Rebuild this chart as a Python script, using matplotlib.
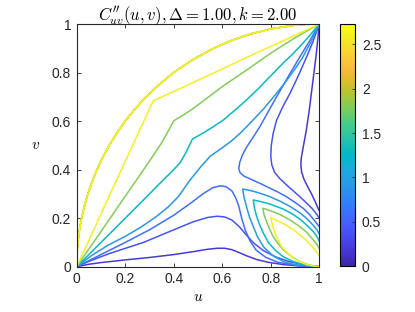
import numpy as np
import matplotlib
matplotlib.use("Agg")
import matplotlib.pyplot as plt
from matplotlib.colors import LinearSegmentedColormap, Normalize
from matplotlib.cm import ScalarMappable

# Valores: niveles de contorno y rango de la barra de color
niveles = [0.2, 0.4, 0.6, 0.9, 1.3, 1.8, 2.6]
z_min, z_max = 0.0, 2.73

# Borde superior del soporte (ahi se juntan todos los niveles)
borde_u = [0, 0.00045, 0.0018, 0.005, 0.0099, 0.0163, 0.0245, 0.0344, 0.046, 0.0633, 0.0835,
           0.107, 0.134, 0.165, 0.2, 0.24, 0.286, 0.339, 0.4, 0.473, 0.564, 0.632, 0.72,
           0.801, 0.9, 0.955, 1]
borde_v = [0, 0.03, 0.06, 0.1, 0.14, 0.18, 0.22, 0.26, 0.3, 0.35, 0.4,
           0.45, 0.5, 0.55, 0.6, 0.65, 0.7, 0.75, 0.8, 0.85, 0.9, 0.93, 0.96,
           0.98, 0.995, 0.999, 1]

# Nivel 1 (indigo)
n1_abajo = [(0, 0), (0.05, 0.01), (0.1, 0.017), (0.2, 0.028), (0.3, 0.038), (0.4, 0.05),
            (0.48, 0.062), (0.54, 0.072), (0.58, 0.076), (0.61, 0.076), (0.64, 0.07),
            (0.67, 0.058), (0.7, 0.045), (0.74, 0.03), (0.79, 0.018), (0.85, 0.009),
            (0.92, 0.003), (1, 0)]
n1_derecha = [(1, 1), (0.995, 0.95), (0.988, 0.88), (0.978, 0.8), (0.968, 0.72), (0.958, 0.64),
              (0.946, 0.56), (0.935, 0.5), (0.926, 0.45), (0.924, 0.42), (0.927, 0.39),
              (0.937, 0.36), (0.952, 0.33), (0.968, 0.3), (0.982, 0.27), (0.993, 0.245), (1, 0.23)]

# Nivel 2 (azul)
n2_abajo = [(0, 0), (0.05, 0.022), (0.137, 0.055), (0.275, 0.1), (0.4, 0.152), (0.48, 0.185),
            (0.54, 0.203), (0.58, 0.208), (0.61, 0.205), (0.64, 0.192), (0.67, 0.165),
            (0.7, 0.13), (0.73, 0.097), (0.77, 0.066), (0.82, 0.04), (0.88, 0.02),
            (0.94, 0.007), (1, 0)]
n2_derecha = [(1, 1), (0.975, 0.93), (0.948, 0.865), (0.915, 0.79), (0.879, 0.714), (0.85, 0.66),
              (0.824, 0.604), (0.81, 0.55), (0.802, 0.5), (0.8, 0.455), (0.804, 0.42),
              (0.815, 0.39), (0.838, 0.362), (0.865, 0.337), (0.893, 0.312), (0.92, 0.288),
              (0.948, 0.262), (0.972, 0.238), (0.99, 0.215), (1, 0.2)]

# Nivel 3 (azul claro)
n3_abajo = [(0, 0), (0.05, 0.025), (0.1, 0.05), (0.2, 0.1), (0.3, 0.152), (0.4, 0.212),
            (0.47, 0.262), (0.52, 0.3), (0.56, 0.325), (0.59, 0.333), (0.615, 0.33),
            (0.64, 0.312), (0.655, 0.285), (0.668, 0.25), (0.68, 0.2), (0.695, 0.15),
            (0.715, 0.105), (0.74, 0.068), (0.78, 0.038), (0.83, 0.018), (0.9, 0.006), (1, 0)]
n3_derecha = [(1, 1), (0.96, 0.93), (0.92, 0.865), (0.87, 0.78), (0.824, 0.7), (0.79, 0.64),
              (0.755, 0.577), (0.725, 0.53), (0.7, 0.492), (0.683, 0.46), (0.672, 0.43),
              (0.668, 0.405), (0.673, 0.388), (0.69, 0.373), (0.714, 0.362), (0.75, 0.346),
              (0.783, 0.33), (0.825, 0.31), (0.865, 0.288), (0.9, 0.265), (0.934, 0.24),
              (0.96, 0.215), (0.98, 0.19), (1, 0.165)]

# Nivel 4 (celeste)
n4_diag = [(0, 0), (0.06, 0.045), (0.13, 0.089), (0.2, 0.125), (0.268, 0.165), (0.33, 0.208),
           (0.378, 0.247), (0.42, 0.29), (0.467, 0.357), (0.51, 0.41), (0.55, 0.455),
           (0.6, 0.49), (0.64, 0.52), (0.674, 0.55), (0.72, 0.597), (0.77, 0.65), (0.82, 0.71),
           (0.86, 0.76), (0.9, 0.815), (0.93, 0.86), (0.965, 0.925), (1, 1)]
n4_gota = [(1, 0.135), (0.99, 0.152), (0.975, 0.17), (0.95, 0.197), (0.92, 0.222), (0.88, 0.248),
           (0.838, 0.27), (0.79, 0.291), (0.742, 0.307), (0.71, 0.315), (0.684, 0.32),
           (0.69, 0.285), (0.7, 0.247), (0.712, 0.205), (0.728, 0.165), (0.746, 0.122),
           (0.77, 0.082), (0.805, 0.048), (0.852, 0.021), (0.9, 0.008), (0.96, 0.001), (1, 0)]

# Nivel 5 (cian)
n5_diag = [(0, 0), (0.15, 0.15), (0.3, 0.3), (0.343, 0.344), (0.39, 0.39), (0.426, 0.428),
           (0.45, 0.47), (0.477, 0.526), (0.52, 0.55), (0.56, 0.575), (0.604, 0.604),
           (0.65, 0.643), (0.7, 0.687), (0.75, 0.735), (0.81, 0.797), (0.85, 0.838),
           (0.893, 0.879), (0.95, 0.94), (1, 1)]
n5_gota = [(1, 0.105), (0.99, 0.125), (0.975, 0.145), (0.955, 0.165), (0.925, 0.192),
           (0.893, 0.215), (0.85, 0.238), (0.797, 0.258), (0.76, 0.268), (0.728, 0.275),
           (0.733, 0.24), (0.742, 0.206), (0.755, 0.17), (0.77, 0.137), (0.79, 0.1),
           (0.817, 0.069), (0.85, 0.042), (0.893, 0.021), (0.94, 0.007), (1, 0)]

# Nivel 6 (verde)
n6_diag = [(0, 0), (0.1, 0.145), (0.2, 0.29), (0.3, 0.435), (0.35, 0.51), (0.401, 0.602),
           (0.44, 0.625), (0.48, 0.652), (0.54, 0.697), (0.6, 0.742), (0.65, 0.776), (0.7, 0.81),
           (0.75, 0.845), (0.8, 0.88), (0.85, 0.912), (0.9, 0.943), (0.95, 0.972), (1, 1)]
n6_gota = [(1, 0.075), (0.99, 0.092), (0.975, 0.11), (0.95, 0.14), (0.92, 0.165), (0.88, 0.192),
           (0.838, 0.215), (0.8, 0.23), (0.767, 0.241), (0.772, 0.215), (0.783, 0.185),
           (0.795, 0.155), (0.81, 0.124), (0.83, 0.095), (0.852, 0.069), (0.885, 0.042),
           (0.92, 0.021), (0.96, 0.006), (1, 0)]

# Nivel 7 (amarillo)
n7_diag = [(0, 0), (0.1, 0.217), (0.2, 0.434), (0.315, 0.683), (0.45, 0.745), (0.6, 0.815),
           (0.75, 0.885), (0.9, 0.953), (1, 1)]
n7_gota = [(1, 0.045), (0.99, 0.06), (0.975, 0.078), (0.955, 0.1), (0.934, 0.12), (0.9, 0.147),
           (0.866, 0.17), (0.83, 0.188), (0.8, 0.202), (0.805, 0.18), (0.81, 0.16),
           (0.822, 0.125), (0.835, 0.1), (0.845, 0.082), (0.868, 0.057), (0.893, 0.035),
           (0.92, 0.02), (0.95, 0.008), (0.98, 0.002), (1, 0)]

caminos = [
    [n1_abajo, n1_derecha],
    [n2_abajo, n2_derecha],
    [n3_abajo, n3_derecha],
    [n4_diag, n4_gota],
    [n5_diag, n5_gota],
    [n6_diag, n6_gota],
    [n7_diag, n7_gota],
]

ticks_ejes = [0, 0.2, 0.4, 0.6, 0.8, 1]
etiquetas_ejes = ['0', '0.2', '0.4', '0.6', '0.8', '1']
ticks_barra = [0, 0.5, 1, 1.5, 2, 2.5]
etiquetas_barra = ['0', '0.5', '1', '1.5', '2', '2.5']

# Mapa de colores tipo parula
parula = [
    (0.2422, 0.1504, 0.6603), (0.2578, 0.1818, 0.7511), (0.2706, 0.2147, 0.8364),
    (0.2783, 0.2559, 0.8991), (0.2813, 0.3006, 0.9414), (0.2795, 0.3447, 0.9717),
    (0.2699, 0.3892, 0.9906), (0.2440, 0.4358, 0.9988), (0.1963, 0.4847, 0.9892),
    (0.1786, 0.5289, 0.9682), (0.1687, 0.5703, 0.9359), (0.1460, 0.6091, 0.9079),
    (0.1248, 0.6459, 0.8883), (0.0952, 0.6798, 0.8598), (0.0297, 0.7082, 0.8163),
    (0.0067, 0.7312, 0.7660), (0.0964, 0.7500, 0.7120), (0.1717, 0.7670, 0.6554),
    (0.2161, 0.7843, 0.5923), (0.2906, 0.7973, 0.5188), (0.3909, 0.8029, 0.4354),
    (0.5044, 0.7993, 0.3480), (0.6174, 0.7876, 0.2612), (0.7242, 0.7698, 0.1910),
    (0.8203, 0.7498, 0.1535), (0.9035, 0.7330, 0.1774), (0.9728, 0.7298, 0.2394),
    (0.9970, 0.7659, 0.2199), (0.9892, 0.8136, 0.1885), (0.9676, 0.8639, 0.1643),
    (0.9597, 0.9135, 0.1423), (0.9691, 0.9606, 0.1064), (0.9769, 0.9839, 0.0805),
]
cmap = LinearSegmentedColormap.from_list('parula', parula, N=256)
norm = Normalize(vmin=z_min, vmax=z_max)

plt.rcParams['font.family'] = ['Liberation Sans', 'DejaVu Sans']
plt.rcParams['mathtext.fontset'] = 'cm'

fig = plt.figure(figsize=(4.15, 3.12), dpi=100)
ax = fig.add_axes([76.7 / 415, 45.3 / 312, 242.6 / 415, 242.7 / 312])
cax = fig.add_axes([340 / 415, 46 / 312, 15 / 415, 242 / 312])

# Dibujamos los niveles de menor a mayor, cada uno tambien sobre el borde
for i, (nivel, lista) in enumerate(zip(niveles, caminos)):
    color = cmap(norm(nivel))
    ancho_borde = 1.5 if i == len(niveles) - 1 else 0.8
    ax.plot(borde_u, borde_v, color=color, lw=ancho_borde)
    for camino in lista:
        pts = np.array(camino)
        ax.plot(pts[:, 0], pts[:, 1], color=color, lw=1.1, solid_joinstyle='round')

ax.set_xlim(0, 1)
ax.set_ylim(0, 1)
ax.set_xticks(ticks_ejes)
ax.set_xticklabels(etiquetas_ejes)
ax.set_yticks(ticks_ejes)
ax.set_yticklabels(etiquetas_ejes)
ax.tick_params(direction='in', length=3, width=0.6, top=True, right=True,
               labelsize=10, colors='#262626', pad=4)
for s in ax.spines.values():
    s.set_linewidth(0.8)
    s.set_color('#262626')

ax.set_xlabel('$u$', fontsize=11, labelpad=3)
ax.set_ylabel('$v$', fontsize=11, rotation=0, labelpad=12, va='center')
ax.set_title(r"$C^{\prime\prime}_{uv}(u,v),\Delta=1.00,k=2.00$", fontsize=12, pad=3)

# Barra de color
cb = fig.colorbar(ScalarMappable(norm=norm, cmap=cmap), cax=cax)
cb.set_ticks(ticks_barra)
cb.set_ticklabels(etiquetas_barra)
cb.ax.tick_params(direction='in', length=2, width=0.6, labelsize=10, colors='#262626', pad=5)
cb.outline.set_linewidth(0.8)

fig.savefig('out.png', dpi=100)
